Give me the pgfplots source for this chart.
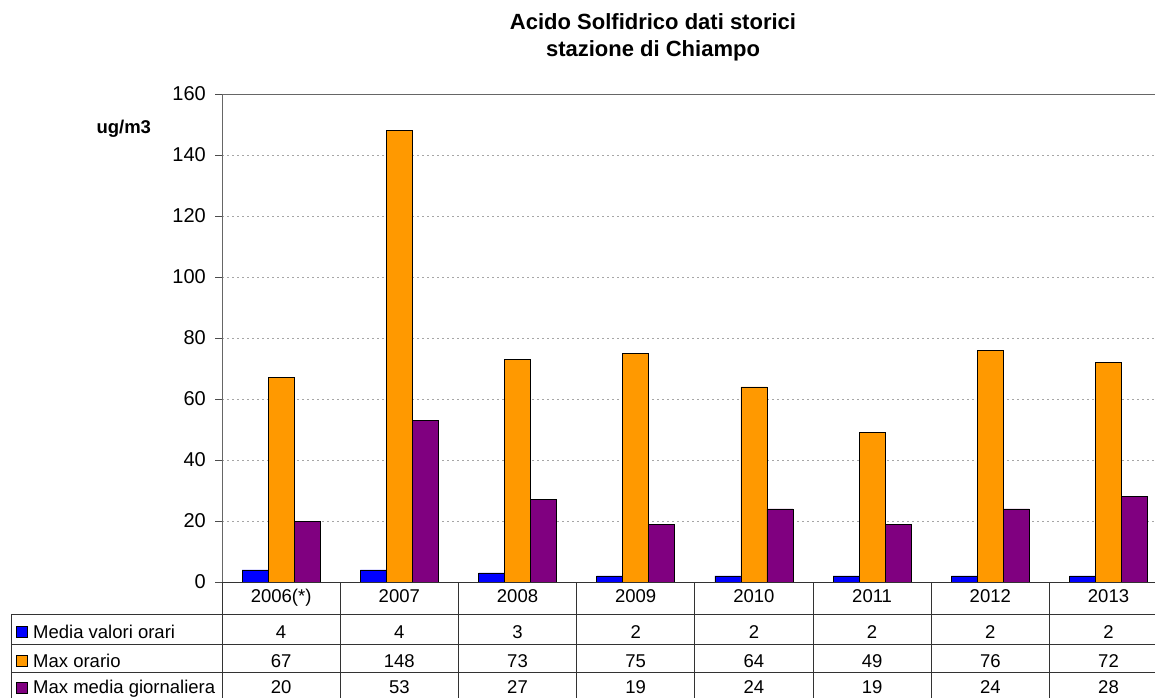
\documentclass[border=0pt]{standalone}
\usepackage{pgfplots}
\usepackage{pgfplotstable}
\pgfplotsset{compat=1.18}
\usepackage{fontspec}
\setmainfont{Liberation Sans}

\definecolor{barblue}{RGB}{0,0,255}
\definecolor{barorange}{RGB}{255,153,0}
\definecolor{barpurple}{RGB}{128,0,128}

% Yearly H2S statistics (ug/m3)
\pgfplotstableread{
year     media maxor maxgiorn
2006(*)  4     67    20
2007     4     148   53
2008     3     73    27
2009     2     75    19
2010     2     64    24
2011     2     49    19
2012     2     76    24
2013     2     72    28
}\hdata

\newcommand{\colw}{118.2}
\newcommand{\xzero}{222}

\begin{document}
\begin{tikzpicture}[x=1pt,y=1pt]
\begin{axis}[
  at={(222pt,115pt)}, anchor=south west,
  scale only axis, width=945.6pt, height=488pt,
  xmin=-0.5, xmax=7.5, ymin=0, ymax=160,
  xtick=\empty,
  ytick={0,20,...,160},
  ytick pos=left,
  tick align=outside,
  major tick length=7pt,
  tick style={black!70, line width=0.8pt},
  yticklabel style={font=\fontsize{20}{24}\selectfont, anchor=east, inner sep=0pt, xshift=-9pt},
  /pgf/number format/assume math mode=true,
  ymajorgrids,
  grid style={gray!70, dash pattern=on 2pt off 3pt, line width=0.8pt},
  axis line style={black!60, line width=0.9pt},
  ybar=0pt, bar width=26pt,
  clip=false,
]
\addplot[fill=barblue, draw=black, line width=0.6pt] table[x expr=\coordindex, y=media]{\hdata};
\addplot[fill=barorange, draw=black, line width=0.6pt] table[x expr=\coordindex, y=maxor]{\hdata};
\addplot[fill=barpurple, draw=black, line width=0.6pt] table[x expr=\coordindex, y=maxgiorn]{\hdata};
\end{axis}

% title and unit
\node[anchor=base, font=\bfseries\fontsize{22}{26}\selectfont] at (653,667) {Acido Solfidrico dati storici};
\node[anchor=base, font=\bfseries\fontsize{22}{26}\selectfont] at (653,640.3) {stazione di Chiampo};
\node[anchor=base west, font=\bfseries\fontsize{18.5}{22}\selectfont] at (93,563) {ug/m3};

% data table below the plot
\begin{scope}[black!80, line width=0.8pt]
  \draw (\xzero,115) -- (1170,115);
  \foreach \k in {0,...,8} \draw (\xzero+\k*\colw,115) -- (\xzero+\k*\colw,-5);
  \draw (11,83) -- (1170,83);
  \draw (11,53) -- (1170,53);
  \draw (11,24.5) -- (1170,24.5);
  \draw (11,83) -- (11,-5);
\end{scope}

\begin{scope}[font=\fontsize{18.5}{22}\selectfont]
  \foreach \i in {0,...,7} {
    \pgfplotstablegetelem{\i}{year}\of\hdata
    \node[anchor=base, inner sep=0pt] at (\xzero+\i*\colw+0.5*\colw,95) {\pgfplotsretval};
    \pgfplotstablegetelem{\i}{media}\of\hdata
    \node[anchor=base, inner sep=0pt] at (\xzero+\i*\colw+0.5*\colw,59) {\pgfplotsretval};
    \pgfplotstablegetelem{\i}{maxor}\of\hdata
    \node[anchor=base, inner sep=0pt] at (\xzero+\i*\colw+0.5*\colw,30) {\pgfplotsretval};
    \pgfplotstablegetelem{\i}{maxgiorn}\of\hdata
    \node[anchor=base, inner sep=0pt] at (\xzero+\i*\colw+0.5*\colw,4) {\pgfplotsretval};
  }
  \filldraw[fill=barblue, draw=black, line width=0.6pt] (16,59.5) rectangle ++(11,11);
  \filldraw[fill=barorange, draw=black, line width=0.6pt] (16,30.5) rectangle ++(11,11);
  \filldraw[fill=barpurple, draw=black, line width=0.6pt] (16,3.5) rectangle ++(11,11);
  \node[anchor=base west, inner sep=0pt] at (33,59) {Media valori orari};
  \node[anchor=base west, inner sep=0pt] at (33,30) {Max orario};
  \node[anchor=base west, inner sep=0pt] at (33,4) {Max media giornaliera};
\end{scope}

\pgfresetboundingbox
\useasboundingbox (0,0) rectangle (1155,697);
\end{tikzpicture}
\end{document}
